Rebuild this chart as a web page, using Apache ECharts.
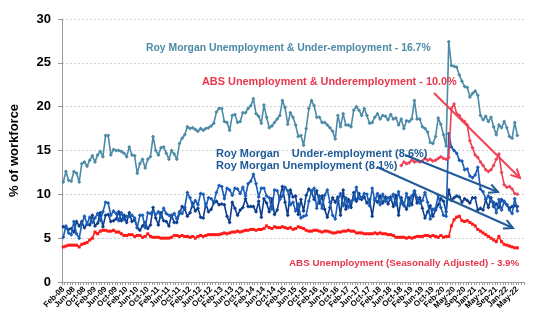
<!DOCTYPE html>
<html><head><meta charset="utf-8">
<script src="https://cdn.jsdelivr.net/npm/echarts@6/dist/echarts.min.js"></script>
<style>html,body{margin:0;padding:0;background:#fff}#c{width:544px;height:332px}</style>
</head><body><div id="c"></div>
<script>
// Tick labels shown on the x axis (every 4th category)
const tickLabels = ['Feb-08','Jun-08','Oct-08','Feb-09','Jun-09','Oct-09','Feb-10','Jun-10','Oct-10','Feb-11','Jun-11','Oct-11','Feb-12','Jun-12','Oct-12','Feb-13','Jun-13','Oct-13','Feb-14','Jun-14','Oct-14','Feb-15','Jun-15','Oct-15','Feb-16','Jun-16','Oct-16','Feb-17','Jun-17','Oct-17','Feb-18','Jun-18','Oct-18','Feb-19','Jun-19','Oct-19','Feb-20','May-20','Sep-20','Jan-21','May-21','Sep-21','Jan-22','May-22'];
const months = ['Jan','Feb','Mar','Apr','May','Jun','Jul','Aug','Sep','Oct','Nov','Dec'];
const extraCovidCats = ['Mar-20','Apr-20 (i)','Apr-20 (ii)'];
const trailingBlank = [' ','  '];

// Roy Morgan Unemployment & Under-employment
const rmTotal = [11.4,12.6,11.6,11.5,12.6,12.4,11.4,13.5,13.7,13.2,
13.9,14.4,13.7,14.5,14.9,14.3,16.7,16.7,14.5,15.1,
15.0,15.0,14.9,14.7,14.3,15.4,14.5,14.4,12.4,13.5,
14.0,13.0,14.0,14.3,16.6,15.0,14.5,15.3,15.4,14.7,
14.0,15.0,14.6,14.0,15.8,16.4,16.8,17.7,17.5,17.6,
17.4,17.2,17.5,17.3,17.5,17.6,17.8,18.1,19.4,19.8,
19.8,18.3,18.2,17.3,19.0,19.1,18.2,18.3,19.3,19.3,
19.8,20.1,20.9,19.2,18.9,18.1,20.2,18.8,17.6,17.8,
18.2,18.6,19.0,20.7,19.9,18.0,19.3,18.8,17.9,16.6,
16.7,15.6,17.5,19.8,20.7,20.1,18.8,18.8,18.2,18.2,
17.9,17.6,17.2,16.3,19.0,17.7,19.2,17.9,17.9,17.7,
19.6,20.0,19.6,19.0,19.8,19.0,18.1,18.2,18.8,19.2,
18.6,19.0,18.9,18.5,19.1,18.6,18.7,17.9,18.6,17.5,
18.4,18.3,18.6,20.7,18.6,18.6,17.7,17.5,17.1,15.9,
15.8,16.6,18.7,18.0,16.8,15.5,27.4,24.7,24.6,24.5,
23.6,22.9,22.3,22.2,21.1,21.5,21.8,21.3,19.0,18.5,
18.9,18.3,18.8,17.7,16.8,17.9,17.6,18.3,17.6,16.6,
16.4,18.2,16.7];

// Roy Morgan Under-employment
const rmUnder = [6.3,6.2,6.0,6.1,5.7,6.9,6.4,6.9,6.2,6.6,
6.5,7.6,6.4,6.7,7.9,6.3,7.6,7.7,6.9,7.0,
7.2,8.0,7.0,7.6,6.8,7.9,6.9,7.1,6.2,5.9,
6.4,6.8,6.1,6.5,8.5,7.3,6.5,7.9,7.0,6.9,
6.4,7.6,6.8,6.8,7.8,8.6,8.3,7.5,7.9,9.0,
8.1,8.4,7.4,7.3,8.9,8.0,8.3,9.0,9.2,8.8,
8.9,8.8,7.5,6.8,9.1,8.4,7.6,8.2,8.5,9.5,
8.6,8.6,8.6,8.0,9.2,7.4,9.5,9.0,8.0,9.5,
7.7,8.2,9.6,10.9,9.1,7.6,10.5,9.7,9.8,7.7,
9.4,8.1,9.9,10.6,10.3,9.4,10.4,9.0,9.8,8.3,
7.4,8.5,9.6,9.1,9.7,7.6,10.5,8.3,9.4,8.5,
10.2,9.2,10.1,9.4,9.7,9.0,9.4,7.5,9.5,9.1,
9.8,9.0,9.7,8.9,9.7,8.6,9.9,7.6,9.6,8.8,
8.3,9.6,8.8,10.3,9.0,9.6,8.4,7.3,8.0,8.7,
7.5,8.2,8.8,9.5,9.2,8.0,10.5,9.3,9.6,9.8,
9.7,9.1,9.5,9.3,9.0,9.6,9.6,8.2,8.4,8.2,
9.4,8.5,9.6,8.6,8.9,8.5,9.4,9.1,8.8,8.4,
8.6,8.7,8.6];

// Roy Morgan Unemployment
const rmUnemp = [5.1,6.4,5.6,5.4,6.9,5.5,5.0,6.6,7.5,6.6,
7.4,6.8,7.3,7.8,7.0,8.0,9.1,9.0,7.6,8.1,
7.8,7.0,7.9,7.1,7.5,7.5,7.6,7.3,6.2,7.6,
7.6,6.2,7.9,7.8,8.1,7.7,8.0,7.4,8.4,7.8,
7.6,7.4,7.8,7.2,8.0,7.8,8.5,10.2,9.6,8.6,
9.3,8.8,10.1,10.0,8.6,9.6,9.5,9.1,10.2,11.0,
10.9,9.5,10.7,10.5,9.9,10.7,10.6,10.1,10.8,9.8,
11.2,11.5,12.3,11.2,9.7,10.7,10.7,9.8,9.6,8.3,
10.5,10.4,9.4,9.8,10.8,10.4,8.8,9.1,8.1,8.9,
7.3,7.5,7.6,9.2,10.4,10.7,8.4,9.8,8.4,9.9,
10.5,9.1,7.6,7.2,9.3,10.1,8.7,9.6,8.5,9.2,
9.4,10.8,9.5,9.6,10.1,10.0,8.7,10.7,9.3,10.1,
8.8,10.0,9.2,9.6,9.4,10.0,8.8,10.3,9.0,8.7,
10.1,8.7,9.8,10.4,9.6,9.0,9.3,10.2,9.1,7.2,
8.3,8.4,9.9,8.5,7.6,7.5,16.9,15.4,15.0,14.7,
13.9,13.8,12.8,12.9,12.1,11.9,12.2,13.1,10.6,10.3,
9.5,9.8,9.2,9.1,7.9,9.4,8.2,9.2,8.8,8.2,
7.8,9.5,8.1];

// ABS Unemployment & Underemployment (series starts Oct-18)
const absUUStart = 128;
const absUU = [13.3,13.7,13.5,13.6,13.9,13.7,13.8,13.7,13.8,14.1,
13.9,14.0,13.8,13.9,14.1,14.3,14.1,14.0,14.2,19.8,
20.3,19.2,19.0,18.5,18.3,17.9,16.1,15.3,14.5,14.2,
13.7,13.3,12.8,12.6,12.8,13.3,14.0,14.6,12.5,11.1,
10.8,10.9,10.6,10.1,10.0];

// ABS Unemployment (Seasonally Adjusted)
const absU = [4.0,4.1,4.2,4.2,4.2,4.2,4.0,4.3,4.4,4.5,4.8,
5.0,5.7,5.5,5.8,5.9,5.9,5.8,5.8,5.9,5.7,5.7,5.5,
5.3,5.3,5.4,5.4,5.2,5.3,5.3,5.1,5.2,5.5,5.2,5.1,
5.1,5.1,5.0,5.0,5.0,5.0,5.1,5.3,5.3,5.2,5.3,5.2,
5.2,5.1,5.2,5.0,5.2,5.3,5.2,5.3,5.4,5.4,5.4,5.4,
5.4,5.5,5.6,5.5,5.6,5.7,5.7,5.8,5.7,5.8,5.9,5.9,
6.0,6.0,5.9,6.0,6.0,6.1,6.4,6.2,6.1,6.3,6.2,6.2,
6.3,6.2,6.1,6.2,6.0,6.1,6.3,6.2,6.1,5.9,5.8,5.8,
5.9,5.9,5.8,5.7,5.8,5.8,5.7,5.6,5.6,5.7,5.7,5.8,
5.8,5.9,5.8,5.8,5.6,5.6,5.6,5.5,5.5,5.5,5.5,5.6,
5.5,5.6,5.5,5.5,5.4,5.4,5.3,5.1,5.1,5.1,5.1,5.0,
5.1,5.0,5.1,5.2,5.2,5.2,5.3,5.3,5.2,5.3,5.2,5.1,
5.3,5.1,
5.2,5.2,6.4,7.1,7.4,7.5,7.0,6.9,7.0,6.8,
6.6,6.4,6.0,5.8,5.6,5.4,5.2,5.0,4.8,4.6,
5.2,4.6,4.3,4.2,4.1,4.0,3.9,3.9];

// ---- build categories ----
const categories = [];
for (let y = 2008; y <= 2020; y++) {
  for (let m = 0; m < 12; m++) {
    if (y === 2008 && m < 1) continue;
    if (y === 2020 && m > 1) break;
    categories.push(months[m] + '-' + String(y).slice(2));
  }
}
extraCovidCats.forEach(c => categories.push(c));
for (let y = 2020; y <= 2022; y++) {
  for (let m = 0; m < 12; m++) {
    if (y === 2020 && m < 4) continue;
    if (y === 2022 && m > 4) break;
    categories.push(months[m] + '-' + String(y).slice(2));
  }
}
trailingBlank.forEach(c => categories.push(c));
const nData = rmTotal.length;
const absUUFull = categories.slice(0, nData).map((c, i) => (i >= absUUStart ? absUU[i - absUUStart] : null));

const FONT = '"Liberation Sans", Arial, sans-serif';
const C_TEAL = '#4D8BA7', C_UE = '#0F3F8C', C_U = '#1A5EB6', C_RED1 = '#EF4258', C_RED2 = '#FF1A1A';
const C_TXT_RED = '#E8364E', C_TXT_BLUE = '#1E5A98', C_ARROW_BLUE = '#1F5C99';

function arrow(x1, y1, x2, y2, color) {
  const a = Math.atan2(y2 - y1, x2 - x1);
  const L = 9, W = 4.5;
  const bx = x2 - L * Math.cos(a), by = y2 - L * Math.sin(a);
  const px = -Math.sin(a) * W, py = Math.cos(a) * W;
  return [
    {type: 'line', shape: {x1, y1, x2, y2}, style: {stroke: color, lineWidth: 2}, z: 100},
    {type: 'polyline', shape: {points: [[bx + px, by + py], [x2, y2], [bx - px, by - py]]}, style: {stroke: color, lineWidth: 2, fill: null}, z: 100}
  ];
}
function label(x, y, text, color, size) {
  return {type: 'text', x, y, z: 100, style: {text, fill: color, font: 'bold ' + size + 'px ' + FONT, verticalAlign: 'middle', align: 'left'}};
}

const chart = echarts.init(document.getElementById('c'), null, {renderer: 'canvas'});
const lineSeries = (name, data, color, symbol, size, z) => ({
  name, type: 'line', data, z, animation: false,
  symbol, symbolSize: size, showSymbol: true,
  lineStyle: {color, width: 1.6}, itemStyle: {color, borderWidth: 0},
  connectNulls: false
});

chart.setOption({
  animation: false,
  grid: {left: 53, right: 20, top: 19, bottom: 50, containLabel: false},
  xAxis: {
    type: 'category', data: categories, boundaryGap: true,
    axisLine: {lineStyle: {color: '#9a9a9a', width: 1}},
    axisTick: {show: true, interval: 0, length: 3, lineStyle: {color: '#9a9a9a'}},
    axisLabel: {
      interval: 0,
      formatter: (v, i) => (i % 4 === 0 && tickLabels[i / 4]) ? tickLabels[i / 4] : '',
      showMinLabel: true, showMaxLabel: true, hideOverlap: false,
      rotate: 45, margin: 6, fontSize: 8, fontWeight: 'bold', color: '#000', fontFamily: FONT
    },
    splitLine: {show: false}
  },
  yAxis: {
    type: 'value', min: 0, max: 30, interval: 5,
    name: '% of workforce', nameLocation: 'middle', nameGap: 41,
    nameTextStyle: {fontSize: 13, fontWeight: 'bold', color: '#000', fontFamily: FONT},
    axisLine: {show: true, lineStyle: {color: '#9a9a9a'}},
    axisTick: {show: true, length: 4, lineStyle: {color: '#9a9a9a'}},
    axisLabel: {margin: 11, fontSize: 13, fontWeight: 'bold', color: '#000', fontFamily: FONT},
    splitLine: {show: true, lineStyle: {color: '#d0d0d0', type: [2, 2], width: 1}}
  },
  series: [
    lineSeries('ABS Unemployment (Seasonally Adjusted)', absU, C_RED2, 'rect', 3, 2),
    lineSeries('Roy Morgan Under-employment', rmUnder, C_UE, 'diamond', 4, 3),
    lineSeries('Roy Morgan Unemployment', rmUnemp, C_U, 'diamond', 4, 4),
    lineSeries('Roy Morgan Unemployment & Under-employment', rmTotal, C_TEAL, 'diamond', 4, 5),
    lineSeries('ABS Unemployment & Underemployment', absUUFull, C_RED1, 'diamond', 4, 6)
  ],
  graphic: [
    label(146, 48, 'Roy Morgan Unemployment & Under-employment - 16.7%', C_TEAL, 10.4),
    label(202, 82, 'ABS Unemployment & Underemployment - 10.0%', C_TXT_RED, 10.9),
    label(216, 154, 'Roy Morgan    Under-employment (8.6%)', C_TXT_BLUE, 11),
    label(216, 166, 'Roy Morgan Unemployment (8.1%)', C_TXT_BLUE, 11),
    label(289, 263, 'ABS Unemployment (Seasonally Adjusted) - 3.9%', C_TXT_RED, 9.8),
    ...arrow(434, 93, 520, 178, C_RED1),
    ...arrow(405, 155, 498, 192, C_ARROW_BLUE),
    ...arrow(377, 167, 513, 228, C_ARROW_BLUE)
  ]
});
</script></body></html>
